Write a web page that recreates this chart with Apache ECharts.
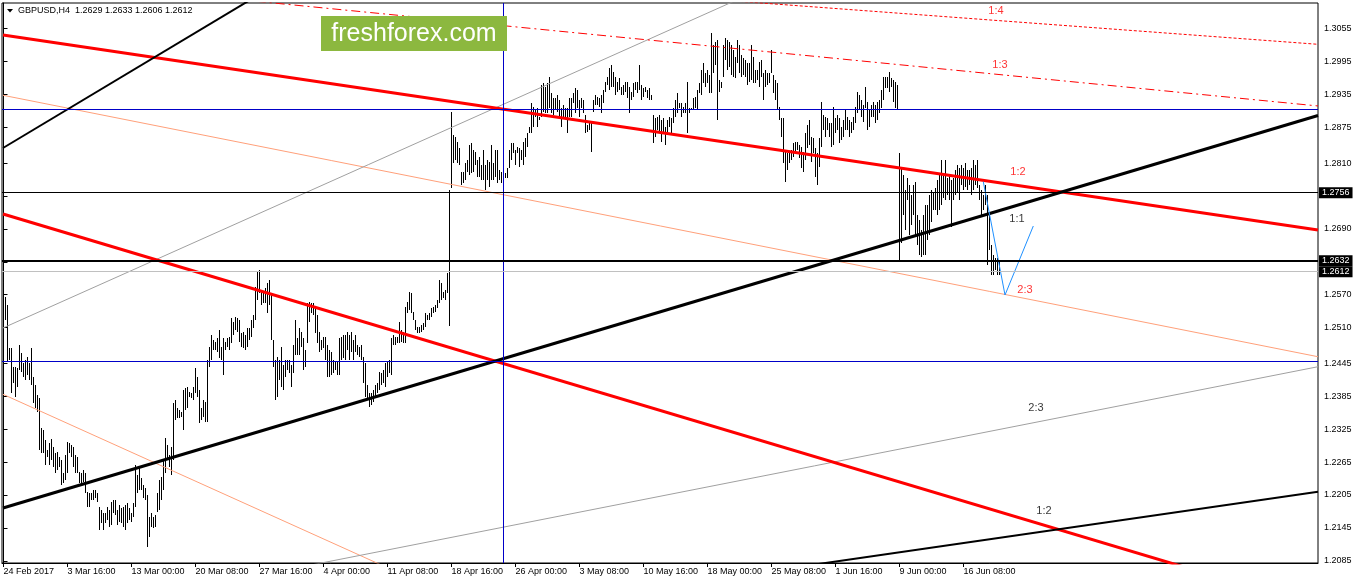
<!DOCTYPE html>
<html><head><meta charset="utf-8">
<script src="https://cdn.jsdelivr.net/npm/echarts@6/dist/echarts.min.js"></script>
<style>html,body{margin:0;padding:0;background:#fff}#c{width:1358px;height:584px}</style>
</head><body><div id="c"></div><script>
// ---- data ----
const symbolName = 'GBPUSD,H4';
const lastOHLC = [1.2629, 1.2633, 1.2606, 1.2612];
const highs = [
1.2570,1.2566,1.2551,1.2473,1.2473,1.2438,1.2438,1.2436,1.2478,1.2464,
1.2445,1.2451,1.2456,1.2445,1.2473,1.2420,1.2405,1.2387,1.2382,1.2327,
1.2323,1.2305,1.2287,1.2300,1.2307,1.2292,1.2282,1.2283,1.2274,1.2269,
1.2245,1.2278,1.2302,1.2300,1.2296,1.2292,1.2278,1.2274,1.2247,1.2245,
1.2251,1.2245,1.2210,1.2208,1.2208,1.2214,1.2214,1.2208,1.2183,1.2178,
1.2172,1.2172,1.2183,1.2178,1.2192,1.2196,1.2196,1.2178,1.2187,1.2181,
1.2183,1.2187,1.2190,1.2181,1.2172,1.2190,1.2260,1.2241,1.2254,1.2236,
1.2223,1.2218,1.2205,1.2165,1.2172,1.2165,1.2169,1.2208,1.2232,1.2238,
1.2269,1.2309,1.2296,1.2278,1.2292,1.2373,1.2378,1.2364,1.2360,1.2356,
1.2396,1.2400,1.2402,1.2393,1.2391,1.2402,1.2436,1.2420,1.2396,1.2364,
1.2378,1.2375,1.2451,1.2475,1.2497,1.2488,1.2484,1.2491,1.2506,1.2475,
1.2491,1.2484,1.2491,1.2493,1.2528,1.2520,1.2529,1.2528,1.2524,1.2500,
1.2502,1.2497,1.2509,1.2509,1.2524,1.2533,1.2584,1.2611,1.2615,1.2579,
1.2573,1.2582,1.2591,1.2597,1.2573,1.2488,1.2451,1.2456,1.2451,1.2475,
1.2442,1.2451,1.2451,1.2451,1.2442,1.2478,1.2524,1.2491,1.2509,1.2502,
1.2491,1.2469,1.2555,1.2557,1.2555,1.2555,1.2548,1.2533,1.2502,1.2488,
1.2493,1.2493,1.2478,1.2469,1.2466,1.2451,1.2447,1.2447,1.2491,1.2493,
1.2497,1.2497,1.2502,1.2497,1.2502,1.2488,1.2497,1.2478,1.2475,1.2478,
1.2456,1.2445,1.2405,1.2391,1.2391,1.2396,1.2405,1.2409,1.2429,1.2427,
1.2433,1.2445,1.2447,1.2451,1.2491,1.2497,1.2493,1.2493,1.2520,1.2506,
1.2502,1.2548,1.2557,1.2575,1.2573,1.2539,1.2524,1.2511,1.2511,1.2515,
1.2518,1.2537,1.2533,1.2537,1.2546,1.2548,1.2551,1.2560,1.2597,1.2591,
1.2575,1.2579,1.2610,1.2761,1.2903,1.2861,1.2858,1.2849,1.2838,1.2794,
1.2794,1.2810,1.2816,1.2843,1.2847,1.2834,1.2830,1.2816,1.2821,1.2807,
1.2834,1.2807,1.2816,1.2812,1.2843,1.2810,1.2834,1.2834,1.2797,1.2794,
1.2788,1.2792,1.2801,1.2834,1.2847,1.2847,1.2834,1.2839,1.2838,1.2834,
1.2849,1.2856,1.2865,1.2876,1.2920,1.2912,1.2907,1.2910,1.2894,1.2952,
1.2956,1.2949,1.2956,1.2967,1.2938,1.2929,1.2929,1.2934,1.2925,1.2910,
1.2916,1.2910,1.2910,1.2929,1.2929,1.2938,1.2947,1.2943,1.2925,1.2929,
1.2925,1.2898,1.2879,1.2885,1.2885,1.2925,1.2934,1.2930,1.2929,1.2934,
1.2943,1.2958,1.2967,1.2983,1.2989,1.2976,1.2967,1.2958,1.2965,1.2949,
1.2952,1.2958,1.2958,1.2949,1.2940,1.2956,1.2958,1.2958,1.2989,1.2952,
1.2947,1.2949,1.2943,1.2947,1.2934,1.2898,1.2892,1.2894,1.2898,1.2889,
1.2892,1.2876,1.2889,1.2894,1.2892,1.2910,1.2925,1.2938,1.2920,1.2920,
1.2912,1.2920,1.2958,1.2910,1.2910,1.2929,1.2930,1.2943,1.2956,1.2980,
1.2992,1.2974,1.2980,1.2971,1.3047,1.3025,1.3031,1.3034,1.2961,1.2958,
1.3025,1.3038,1.3034,1.3031,1.3025,1.3016,1.3003,1.3034,1.3025,1.3007,
1.3002,1.2998,1.2992,1.2992,1.3025,1.3003,1.2980,1.2980,1.2994,1.2998,
1.2974,1.2980,1.2974,1.2974,1.3016,1.2971,1.2961,1.2956,1.2912,1.2892,
1.2892,1.2834,1.2828,1.2830,1.2834,1.2847,1.2849,1.2849,1.2843,1.2839,
1.2830,1.2865,1.2879,1.2889,1.2858,1.2856,1.2838,1.2828,1.2856,1.2921,
1.2898,1.2894,1.2892,1.2883,1.2883,1.2912,1.2892,1.2898,1.2892,1.2876,
1.2889,1.2907,1.2894,1.2889,1.2885,1.2894,1.2912,1.2940,1.2934,1.2925,
1.2916,1.2949,1.2921,1.2907,1.2916,1.2921,1.2916,1.2921,1.2925,1.2943,
1.2967,1.2967,1.2967,1.2976,1.2965,1.2961,1.2958,1.2952,1.2828,1.2801,
1.2788,1.2761,1.2783,1.2770,1.2752,1.2770,1.2776,1.2715,1.2706,1.2688,
1.2715,1.2734,1.2734,1.2752,1.2761,1.2757,1.2765,1.2779,1.2788,1.2816,
1.2788,1.2816,1.2783,1.2788,1.2779,1.2783,1.2797,1.2807,1.2801,1.2807,
1.2801,1.2810,1.2797,1.2797,1.2801,1.2816,1.2807,1.2816,1.2770,1.2761,
1.2752,1.2770,1.2752,1.2715,1.2661,1.2643,1.2637,1.2637,1.2633
];
const lows = [
1.2522,1.2524,1.2447,1.2451,1.2391,1.2409,1.2383,1.2402,1.2433,1.2429,
1.2420,1.2415,1.2424,1.2415,1.2405,1.2373,1.2363,1.2356,1.2287,1.2282,
1.2282,1.2260,1.2274,1.2260,1.2269,1.2256,1.2245,1.2251,1.2256,1.2223,
1.2227,1.2232,1.2245,1.2282,1.2274,1.2256,1.2245,1.2245,1.2227,1.2227,
1.2229,1.2208,1.2183,1.2183,1.2196,1.2196,1.2199,1.2192,1.2141,1.2154,
1.2141,1.2154,1.2159,1.2147,1.2150,1.2172,1.2168,1.2150,1.2156,1.2154,
1.2147,1.2141,1.2154,1.2159,1.2156,1.2165,1.2183,1.2208,1.2214,1.2214,
1.2199,1.2196,1.2110,1.2128,1.2147,1.2145,1.2147,1.2174,1.2178,1.2196,
1.2214,1.2245,1.2269,1.2256,1.2241,1.2269,1.2342,1.2345,1.2345,1.2347,
1.2323,1.2360,1.2364,1.2384,1.2382,1.2378,1.2391,1.2384,1.2336,1.2342,
1.2347,1.2338,1.2338,1.2438,1.2451,1.2469,1.2469,1.2466,1.2455,1.2451,
1.2424,1.2469,1.2475,1.2469,1.2482,1.2497,1.2506,1.2502,1.2484,1.2475,
1.2473,1.2469,1.2475,1.2488,1.2493,1.2509,1.2524,1.2560,1.2573,1.2551,
1.2555,1.2555,1.2537,1.2551,1.2488,1.2438,1.2378,1.2384,1.2415,1.2402,
1.2396,1.2420,1.2433,1.2427,1.2402,1.2427,1.2460,1.2460,1.2460,1.2475,
1.2433,1.2438,1.2482,1.2520,1.2537,1.2533,1.2500,1.2482,1.2466,1.2469,
1.2473,1.2451,1.2420,1.2420,1.2424,1.2427,1.2433,1.2424,1.2424,1.2451,
1.2455,1.2451,1.2469,1.2451,1.2466,1.2451,1.2466,1.2460,1.2456,1.2451,
1.2409,1.2384,1.2382,1.2365,1.2369,1.2375,1.2384,1.2391,1.2396,1.2405,
1.2409,1.2402,1.2420,1.2427,1.2424,1.2478,1.2478,1.2482,1.2482,1.2484,
1.2482,1.2482,1.2537,1.2542,1.2537,1.2524,1.2506,1.2500,1.2500,1.2502,
1.2506,1.2511,1.2524,1.2524,1.2529,1.2537,1.2539,1.2546,1.2555,1.2560,
1.2564,1.2560,1.2573,1.2513,1.2765,1.2810,1.2816,1.2810,1.2807,1.2770,
1.2774,1.2779,1.2794,1.2788,1.2792,1.2794,1.2807,1.2785,1.2785,1.2779,
1.2779,1.2761,1.2779,1.2766,1.2779,1.2779,1.2785,1.2774,1.2779,1.2774,
1.2774,1.2783,1.2783,1.2801,1.2816,1.2828,1.2807,1.2828,1.2803,1.2816,
1.2807,1.2821,1.2839,1.2865,1.2865,1.2876,1.2894,1.2876,1.2889,1.2894,
1.2903,1.2901,1.2901,1.2910,1.2901,1.2898,1.2907,1.2903,1.2894,1.2876,
1.2894,1.2894,1.2865,1.2894,1.2894,1.2920,1.2901,1.2910,1.2894,1.2910,
1.2901,1.2865,1.2867,1.2870,1.2830,1.2903,1.2916,1.2916,1.2912,1.2901,
1.2920,1.2940,1.2952,1.2943,1.2949,1.2949,1.2934,1.2940,1.2943,1.2934,
1.2934,1.2940,1.2929,1.2901,1.2925,1.2930,1.2943,1.2938,1.2943,1.2925,
1.2930,1.2940,1.2929,1.2925,1.2925,1.2847,1.2858,1.2870,1.2865,1.2849,
1.2865,1.2843,1.2867,1.2876,1.2861,1.2883,1.2894,1.2901,1.2910,1.2894,
1.2901,1.2901,1.2865,1.2901,1.2907,1.2907,1.2910,1.2907,1.2938,1.2934,
1.2956,1.2949,1.2956,1.2938,1.2938,1.2974,1.2989,1.2889,1.2940,1.2947,
1.2967,1.2998,1.2980,1.2985,1.2971,1.2967,1.2965,1.2992,1.2974,1.2967,
1.2971,1.2967,1.2952,1.2958,1.2961,1.2956,1.2956,1.2961,1.2949,1.2967,
1.2925,1.2949,1.2952,1.2956,1.2974,1.2938,1.2925,1.2907,1.2889,1.2858,
1.2810,1.2776,1.2797,1.2810,1.2816,1.2821,1.2828,1.2834,1.2819,1.2801,
1.2794,1.2816,1.2838,1.2843,1.2812,1.2828,1.2785,1.2770,1.2803,1.2839,
1.2870,1.2858,1.2870,1.2858,1.2839,1.2843,1.2865,1.2870,1.2847,1.2852,
1.2858,1.2870,1.2870,1.2858,1.2865,1.2870,1.2883,1.2901,1.2907,1.2894,
1.2885,1.2910,1.2870,1.2876,1.2894,1.2894,1.2883,1.2889,1.2901,1.2910,
1.2925,1.2947,1.2947,1.2940,1.2949,1.2921,1.2910,1.2907,1.2633,1.2664,
1.2715,1.2688,1.2743,1.2679,1.2697,1.2715,1.2679,1.2661,1.2643,1.2639,
1.2643,1.2643,1.2670,1.2679,1.2703,1.2725,1.2725,1.2715,1.2725,1.2734,
1.2746,1.2743,1.2752,1.2743,1.2693,1.2743,1.2752,1.2757,1.2743,1.2770,
1.2761,1.2766,1.2761,1.2770,1.2752,1.2761,1.2770,1.2765,1.2743,1.2715,
1.2725,1.2734,1.2624,1.2652,1.2606,1.2606,1.2615,1.2606,1.2606
];
const xTickLabels = ['24 Feb 2017','3 Mar 16:00','13 Mar 00:00','20 Mar 08:00','27 Mar 16:00','4 Apr 00:00','11 Apr 08:00','18 Apr 16:00','26 Apr 00:00','3 May 08:00','10 May 16:00','18 May 00:00','25 May 08:00','1 Jun 16:00','9 Jun 00:00','16 Jun 08:00'];
const barsPerXTick = 32;
const yTickValues = [1.3055,1.2995,1.2935,1.2875,1.2810,1.2750,1.2690,1.2630,1.2570,1.2510,1.2445,1.2385,1.2325,1.2265,1.2205,1.2145,1.2085];
const yRange = [1.20810, 1.31018];
const barRange = [-0.75, 657.25];

// horizontal levels
const levelBlueHigh = 1.29086;
const levelBlueLow = 1.24492;
const levelBoxed = [1.2756, 1.2632, 1.2612];
const verticalLineBar = 249.9;

// trend lines: [bar index, price]
const redUpperLine = [[-0.25,1.30435],[657.25,1.26880]];
const redLowerLine = [[-0.25,1.27172],[657.25,1.20007]];
const blackMainLine = [[-0.25,1.21812],[657.25,1.28967]];
const blackSteepLine = [[-0.25,1.28375],[198.25,1.32710]];
const blackLowLine = [[348.25,1.20479],[657.25,1.22109]];
const grayUpperLine = [[-0.25,1.25094],[398.25,1.31589]];
const grayLowerLine = [[123.25,1.20554],[657.25,1.24388]];
const salmonUpperLine = [[-0.25,1.29336],[657.25,1.24570]];
const salmonLowerLine = [[-0.25,1.23885],[198.25,1.20620]];
const redDashDotLine = [[98.25,1.31150],[657.25,1.29141]];
const redDottedLine = [[348.25,1.31101],[657.25,1.30265]];
const blueZigzag = [[489.9,1.27761],[500.75,1.25695],[514.9,1.26953]];

const redFibText = ['1:4','1:3','1:2','2:3'];
const redFibPos = [[496.25,1.30872],[498.25,1.29888],[507.25,1.27937],[510.75,1.25786]];
const blackFibText = ['1:1','2:3','1:2'];
const blackFibPos = [[506.75,1.27081],[516.25,1.23635],[520.25,1.21757]];

// ---- chart ----
const FONT = '"Liberation Sans", Arial, sans-serif';
const chart = echarts.init(document.getElementById('c'), null, {renderer:'canvas'});
const barData = highs.map((h, i) => [i, h, lows[i]]);
const xTickPos = xTickLabels.map((_, k) => k * barsPerXTick);

function renderBar(params, api) {
  const top = api.coord([api.value(0), api.value(1)]);
  const bot = api.coord([api.value(0), api.value(2)]);
  const x = Math.round(top[0] - 0.5) + 0.5;
  let y1 = Math.round(top[1]), y2 = Math.round(bot[1]);
  if (y2 - y1 < 1) y2 = y1 + 1;
  return {type:'line', silent:true, shape:{x1:x, y1:y1, x2:x, y2:y2}, style:{stroke:'#000', lineWidth:1}};
}
function tline(data, color, width, type, z) {
  return {type:'line', data:data, symbol:'none', silent:true, clip:true, z:z||3,
    lineStyle:{color:color, width:width, type:type||'solid'}, animation:false};
}
function boxLabel(v) {
  return {show:true, position:'end', formatter: v.toFixed(4), color:'#fff', backgroundColor:'#000',
    padding:[1,3,0,3], fontSize:9, fontFamily:FONT, distance:1, lineHeight:10};
}

const option = {
  animation:false,
  backgroundColor:'#fff',
  grid:{left:2, right:40, top:3, bottom:21, show:true, borderColor:'#000', borderWidth:1, containLabel:false, outerBoundsMode:'none'},
  xAxis:{type:'value', min:barRange[0], max:barRange[1],
    axisLine:{show:true, onZero:false, lineStyle:{color:'#000'}},
    axisTick:{show:true, customValues:xTickPos, length:4, lineStyle:{color:'#000'}},
    axisLabel:{customValues:xTickPos, formatter:(v)=>xTickLabels[Math.round(v/barsPerXTick)]||'', align:'left', color:'#000', fontSize:9, fontFamily:FONT, margin:4},
    splitLine:{show:false}},
  yAxis:{type:'value', position:'right', min:yRange[0], max:yRange[1],
    axisLine:{show:true, lineStyle:{color:'#000'}},
    axisTick:{show:true, customValues:yTickValues, length:4, lineStyle:{color:'#000'}},
    axisLabel:{customValues:yTickValues, formatter:(v)=>v.toFixed(4), color:'#000', fontSize:9, fontFamily:FONT, margin:6},
    splitLine:{show:false}},
  graphic:[
    {type:'polygon', z:100, shape:{points:[[7,9],[13,9],[10,12.5]]}, style:{fill:'#000'}},
    {type:'text', z:100, x:18, y:11, style:{text: symbolName + '  ' + lastOHLC.map(v=>v.toFixed(4)).join(' '), fill:'#000', font:'9px ' + FONT, verticalAlign:'middle'}},
    {type:'rect', z:100, shape:{x:321, y:16, width:186, height:35}, style:{fill:'#8cb83f'}},
    {type:'text', z:101, x:414, y:34, style:{text:'freshforex.com', fill:'#fff', font:'25px ' + FONT, align:'center', verticalAlign:'middle'}}
  ],
  series:[
    {type:'custom', name:'bars', data:barData, renderItem:renderBar, clip:true, z:2, silent:true,
      encode:{x:0, y:[1,2]}},
    tline(salmonUpperLine, '#FFA07A', 1),
    tline(salmonLowerLine, '#FFA07A', 1),
    tline(grayUpperLine, '#A0A0A0', 1),
    tline(grayLowerLine, '#A0A0A0', 1),
    tline(redDashDotLine, '#FF0000', 1, [9,4,2,4]),
    tline(redDottedLine, '#FF0000', 1, [3,2]),
    tline(redUpperLine, '#FF0000', 3),
    tline(redLowerLine, '#FF0000', 3),
    tline(blackMainLine, '#000000', 3),
    tline(blackSteepLine, '#000000', 2),
    tline(blackLowLine, '#000000', 2),
    tline(blueZigzag, '#1E90FF', 1, 'solid', 4),
    {type:'line', name:'levels', data:[[0, levelBoxed[0]]], symbol:'none', lineStyle:{opacity:0}, silent:true, z:3,
      markLine:{symbol:['none','none'], silent:true, animation:false, precision:5,
        data:[
          {yAxis:levelBlueHigh, lineStyle:{color:'#0000C8', width:1, type:'solid'}, label:{show:false}},
          {yAxis:levelBlueLow, lineStyle:{color:'#0000C8', width:1, type:'solid'}, label:{show:false}},
          {xAxis:verticalLineBar, lineStyle:{color:'#0000C8', width:1, type:'solid'}, label:{show:false}},
          {yAxis:levelBoxed[2], lineStyle:{color:'#C0C0C0', width:1, type:'solid'}, label:boxLabel(levelBoxed[2])},
          {yAxis:levelBoxed[0], lineStyle:{color:'#000', width:1, type:'solid'}, label:boxLabel(levelBoxed[0])},
          {yAxis:levelBoxed[1], lineStyle:{color:'#000', width:2, type:'solid'}, label:boxLabel(levelBoxed[1])}
        ]}},
    {type:'scatter', data:redFibPos, symbolSize:1, itemStyle:{color:'rgba(0,0,0,0)'}, silent:true, z:5,
      label:{show:true, position:'inside', formatter:(p)=>redFibText[p.dataIndex], color:'#FF0000', fontSize:11, fontFamily:FONT}},
    {type:'scatter', data:blackFibPos, symbolSize:1, itemStyle:{color:'rgba(0,0,0,0)'}, silent:true, z:5,
      label:{show:true, position:'inside', formatter:(p)=>blackFibText[p.dataIndex], color:'#000', fontSize:11, fontFamily:FONT}}
  ]
};
chart.setOption(option);
</script></body></html>
